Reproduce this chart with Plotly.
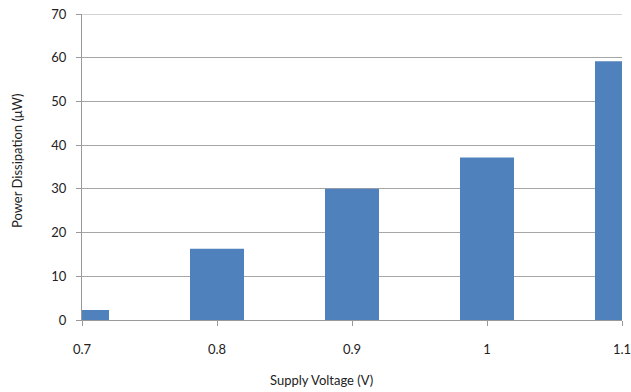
import plotly.graph_objects as go

voltages = [0.7, 0.8, 0.9, 1.0, 1.1]
power_uw = [2.3, 16.3, 30.0, 37.2, 59.2]
x_ticks = [0.7, 0.8, 0.9, 1.0, 1.1]
x_tick_labels = ["0.7", "0.8", "0.9", "1", "1.1"]
y_ticks = [0, 10, 20, 30, 40, 50, 60, 70]
y_max = 70

fig = go.Figure(go.Bar(x=voltages, y=power_uw, width=0.04,
                       marker=dict(color="#4F81BD", line=dict(width=0))))

font = dict(family="Lato, Open Sans, sans-serif", size=13, color="#222")
fig.update_layout(
    width=631, height=392,
    margin=dict(l=82, r=9, t=14, b=72),
    plot_bgcolor="white", paper_bgcolor="white",
    font=font, showlegend=False,
    xaxis=dict(range=[0.7, 1.1], tickvals=x_ticks, ticktext=x_tick_labels,
               showgrid=False, zeroline=False, showline=True, linecolor="#999",
               linewidth=1, ticks="outside", ticklen=5, tickcolor="#999",
               ticklabelstandoff=12, automargin=False, ticklabeloverflow="allow"),
    yaxis=dict(range=[0, y_max], tickvals=y_ticks, showgrid=True, gridcolor="#a6a6a6",
               zeroline=False, showline=True, linecolor="#999", linewidth=1,
               ticks="outside", ticklen=5, tickcolor="#999",
               ticklabelstandoff=7, automargin=False, ticklabeloverflow="allow"),
    shapes=[dict(type="line", xref="paper", yref="y", x0=0, x1=1, y0=y_max, y1=y_max,
                 line=dict(color="#a6a6a6", width=1), layer="below")],
    annotations=[
        dict(text="Supply Voltage (V)", xref="paper", yref="paper", x=0.444, y=0,
             yanchor="middle", xanchor="center", yshift=-60, showarrow=False),
        dict(text="Power Dissipation (μW)", xref="paper", yref="paper", x=0, y=0.5,
             xanchor="center", yanchor="middle", xshift=-65, yshift=6, textangle=-90,
             showarrow=False),
    ],
)
fig.write_html("out.html", config={"displayModeBar": False},
               post_script="document.body.style.margin='0';document.body.style.overflow='hidden';")
